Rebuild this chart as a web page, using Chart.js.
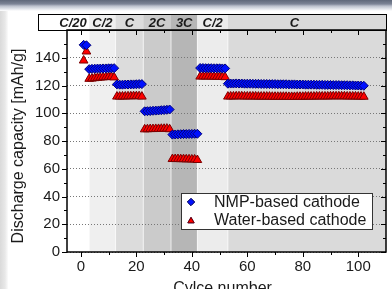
<!DOCTYPE html>
<html>
<head>
<meta charset="utf-8">
<script src="https://cdn.jsdelivr.net/npm/chart.js@4.4.1/dist/chart.umd.min.js"></script>
<style>
  html, body { margin: 0; padding: 0; background: #fff; }
  #wrap { position: relative; width: 392px; height: 289px; overflow: hidden; background: #fff; }
  #topbar { position: absolute; left: 0; top: 0; width: 392px; height: 11px;
    background: linear-gradient(to bottom, #5f687a 0px, #7c8496 4px, #b9bfcb 6px, #e4e7ed 9px, #ffffff 11px); }
  #leftbar { position: absolute; left: 0; top: 11px; width: 8px; height: 278px;
    background: linear-gradient(to right, #dadada, #e8e8e8 5px, #fbfbfb); }
  canvas { position: absolute; left: 0; top: 0; }
</style>
</head>
<body>
<div id="wrap">
  <div id="topbar"></div>
  <div id="leftbar"></div>
  <canvas id="chart" width="392" height="289"></canvas>
</div>
<script>
// C-rate steps (cycle boundaries) shown in the header strip
const RATE_LABELS = ['C/20', 'C/2', 'C', '2C', '3C', 'C/2', 'C'];
const RATE_BOUNDS = [-5, 3, 12.5, 22.5, 32.5, 42, 53, 110];
const RATE_LABEL_AT = [-2.8, 7.75, 17.5, 27.5, 37.25, 47.5, 77];

// Discharge capacity per cycle [mAh/g], cycle 1..102
const NMP_CAPACITY = [
  149.3, 149.0,
  131.8, 132.0, 132.1, 132.2, 132.2, 132.3, 132.3, 132.4, 132.4, 132.5,
  120.8, 120.6, 120.6, 120.7, 120.7, 120.8, 120.8, 120.9, 121.0, 121.0,
  101.4, 101.5, 101.6, 101.8, 101.9, 102.0, 102.2, 102.3, 102.5, 102.7,
  84.6, 84.7, 84.8, 84.9, 85.0, 85.0, 85.1, 85.1, 85.2, 85.2,
  132.6, 132.6, 132.5, 132.5, 132.5, 132.4, 132.4, 132.4, 132.3, 132.3,
  121.3, 121.4, 121.4, 121.5, 121.4, 121.4, 121.3, 121.3, 121.3, 121.2,
  121.2, 121.2, 121.1, 121.1, 121.1, 121.0, 121.0, 121.0, 120.9, 120.9,
  120.9, 120.9, 120.8, 120.8, 120.8, 120.7, 120.7, 120.7, 120.6, 120.6,
  120.6, 120.6, 120.5, 120.5, 120.5, 120.4, 120.4, 120.4, 120.3, 120.3,
  120.3, 120.2, 120.2, 120.2, 120.1, 120.1, 120.0, 120.0, 119.9, 119.8,
];
const WATER_CAPACITY = [
  138.0, 144.5,
  124.8, 125.0, 125.3, 125.5, 125.7, 125.9, 126.0, 126.2, 126.3, 125.8,
  112.0, 112.0, 112.1, 112.1, 112.2, 112.2, 112.3, 112.3, 112.3, 112.0,
  88.4, 88.5, 88.6, 88.6, 88.7, 88.7, 88.8, 88.8, 88.9, 88.5,
  67.0, 67.0, 67.0, 66.9, 66.9, 66.8, 66.8, 66.7, 66.7, 66.3,
  126.4, 126.5, 126.5, 126.5, 126.4, 126.4, 126.3, 126.3, 126.2, 126.0,
  112.0, 112.1, 112.1, 112.2, 112.2, 112.2, 112.1, 112.1, 112.1, 112.1,
  112.1, 112.0, 112.0, 112.0, 112.0, 112.0, 111.9, 111.9, 111.9, 111.9,
  111.9, 111.9, 111.8, 111.8, 111.8, 111.9, 111.9, 111.9, 112.0, 112.0,
  112.0, 112.0, 112.1, 112.1, 112.1, 112.1, 112.1, 112.2, 112.2, 112.2,
  112.2, 112.2, 112.2, 112.1, 112.1, 112.1, 112.1, 112.0, 112.0, 111.9,
];
const SERIES_LABELS = ['NMP-based cathode', 'Water-based cathode'];
const X_TITLE = 'Cylce number';
const Y_TITLE = 'Discharge capacity [mAh/g]';

const FONT = "'Liberation Sans', Arial, sans-serif";
const BAND_COLORS = ['#ffffff', '#efefef', '#dcdcdc', '#cbcbcb', '#b6b6b6', '#ececec', '#dadada'];
const TEXT = '#1a1a1a';

const toPoints = values => values.map((v, i) => ({ x: i + 1, y: v }));

// Shaded rate bands behind the data, header strip / frame / legend on top
const bandsPlugin = {
  id: 'bands',
  beforeDraw(chart) {
    const { ctx, chartArea: a, scales: { x } } = chart;
    ctx.save();
    for (let i = 0; i < RATE_LABELS.length; i++) {
      const x0 = Math.max(a.left, x.getPixelForValue(RATE_BOUNDS[i]));
      const x1 = Math.min(a.right, x.getPixelForValue(RATE_BOUNDS[i + 1]));
      ctx.fillStyle = BAND_COLORS[i];
      ctx.fillRect(x0, a.top, x1 - x0, a.bottom - a.top);
      if (i > 0) {
        ctx.fillStyle = 'rgba(255,255,255,0.7)';
        ctx.fillRect(x0 - 0.5, a.top, 1, a.bottom - a.top);
      }
    }
    ctx.restore();
  },
  afterDraw(chart) {
    const { ctx, chartArea: a, scales: { x, y } } = chart;
    ctx.save();

    // header strip
    const hTop = 14, hLeft = 38;
    for (let i = 0; i < RATE_LABELS.length; i++) {
      const x0 = i === 0 ? hLeft : x.getPixelForValue(RATE_BOUNDS[i]);
      const x1 = Math.min(a.right, x.getPixelForValue(RATE_BOUNDS[i + 1]));
      ctx.fillStyle = BAND_COLORS[i];
      ctx.fillRect(x0, hTop, x1 - x0, a.top - hTop);
    }
    ctx.strokeStyle = '#000';
    ctx.lineWidth = 1;
    ctx.strokeRect(hLeft + 0.5, hTop + 0.5, a.right - hLeft, a.top - hTop);
    ctx.font = `italic bold 13px ${FONT}`;
    ctx.fillStyle = TEXT;
    ctx.textAlign = 'center';
    ctx.textBaseline = 'middle';
    RATE_LABELS.forEach((lbl, i) => {
      ctx.fillText(lbl, x.getPixelForValue(RATE_LABEL_AT[i]), (hTop + a.top) / 2 + 1);
    });

    // frame
    ctx.lineWidth = 1.5;
    ctx.strokeRect(a.left, a.top, a.right - a.left, a.bottom - a.top);

    // major / minor ticks
    ctx.lineWidth = 1;
    ctx.beginPath();
    for (let v = 0; v <= 100; v += 10) {
      const px = Math.round(x.getPixelForValue(v)) + 0.5;
      const len = v % 20 === 0 ? 5 : 3;
      ctx.moveTo(px, a.bottom); ctx.lineTo(px, a.bottom + len);
      ctx.moveTo(px, a.top); ctx.lineTo(px, a.top + len);
    }
    for (let v = 0; v <= 160; v += 10) {
      const py = Math.round(y.getPixelForValue(v)) + 0.5;
      const len = v % 20 === 0 ? 5 : 3;
      ctx.moveTo(a.left, py); ctx.lineTo(a.left - len, py);
      ctx.moveTo(a.right, py); ctx.lineTo(a.right - len, py);
    }
    ctx.stroke();

    // axis titles
    ctx.fillStyle = TEXT;
    ctx.font = `16px ${FONT}`;
    ctx.textAlign = 'center';
    ctx.textBaseline = 'alphabetic';
    ctx.fillText(X_TITLE, (a.left + a.right) / 2 - 4, 293);
    ctx.save();
    ctx.translate(23, 146);
    ctx.rotate(-Math.PI / 2);
    ctx.fillText(Y_TITLE, 0, 0);
    ctx.restore();

    // legend box
    const lx = 181, ly = 193, lw = 191, lh = 36;
    ctx.fillStyle = '#fff';
    ctx.fillRect(lx, ly, lw, lh);
    ctx.strokeStyle = '#333';
    ctx.lineWidth = 1;
    ctx.strokeRect(lx + 0.5, ly + 0.5, lw, lh);
    ctx.font = `16px ${FONT}`;
    ctx.textAlign = 'left';
    ctx.textBaseline = 'middle';
    chart.data.datasets.forEach((ds, i) => {
      const cy = ly + 9 + i * 18;
      Chart.helpers.drawPoint(ctx, {
        pointStyle: ds.pointStyle,
        radius: 3.6,
        rotation: 0,
        borderWidth: 1,
      }, lx + 10, cy + (ds.pointStyle === 'triangle' ? 1 : 0));
      ctx.fillStyle = ds.backgroundColor;
      ctx.strokeStyle = ds.borderColor;
      ctx.fill();
      ctx.stroke();
      ctx.fillStyle = TEXT;
      ctx.fillText(ds.label, lx + 33, cy + 1);
    });
    ctx.restore();
  },
};

const ctx = document.getElementById('chart');
new Chart(ctx, {
  type: 'scatter',
  data: {
    datasets: [
      {
        label: SERIES_LABELS[0],
        data: toPoints(NMP_CAPACITY),
        pointStyle: 'rectRot',
        pointRadius: 4.5,
        backgroundColor: '#0010ff',
        borderColor: '#00007a',
        borderWidth: 1,
      },
      {
        label: SERIES_LABELS[1],
        data: toPoints(WATER_CAPACITY),
        pointStyle: 'triangle',
        pointRadius: 5,
        backgroundColor: '#ff0000',
        borderColor: '#7a0000',
        borderWidth: 1,
      },
    ],
  },
  options: {
    responsive: false,
    animation: false,
    devicePixelRatio: 1,
    layout: { padding: { left: 0, right: 2, top: 30, bottom: 0 } },
    plugins: { legend: { display: false }, tooltip: { enabled: false } },
    scales: {
      x: {
        type: 'linear',
        min: -5,
        max: 110,
        afterFit: s => { s.height = 37; },
        grid: { display: false, drawTicks: false },
        border: { display: false },
        ticks: {
          stepSize: 20,
          includeBounds: false,
          padding: 6,
          color: TEXT,
          font: { family: FONT, size: 15 },
          maxRotation: 0,
        },
      },
      y: {
        min: 0,
        max: 160,
        afterFit: s => { s.width = 67; },
        grid: { color: '#777', drawTicks: false, lineWidth: 1 },
        border: { display: false, dash: [1, 2] },
        ticks: {
          stepSize: 10,
          padding: 7,
          color: TEXT,
          font: { family: FONT, size: 15 },
          callback: v => (v % 20 === 0 && v <= 140 ? v : ''),
        },
      },
    },
  },
  plugins: [bandsPlugin],
});
</script>
</body>
</html>
